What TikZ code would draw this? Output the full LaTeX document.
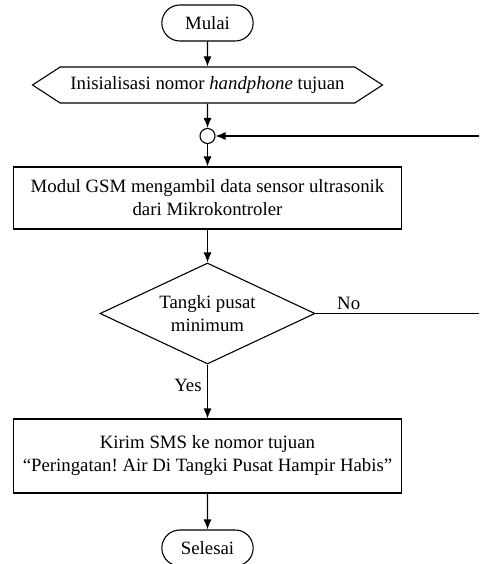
\documentclass[tikz,border=0pt]{standalone}
\usepackage{fontspec}
\setmainfont{Liberation Serif}
\usetikzlibrary{arrows.meta, shapes.misc, shapes.geometric, shapes.symbols}
\frenchspacing

\begin{document}
\begin{tikzpicture}[x=1pt, y=-1pt, line width=1.1pt, >={Latex[length=10pt, width=8pt]},
    font=\fontsize{18.8}{23}\selectfont,
    terminal/.style={draw, rounded rectangle, minimum width=98pt, minimum height=36pt},
    process/.style={draw, rectangle, align=center, minimum width=388pt},
    flow/.style={draw, ->}]
    \clip (0,0) rectangle (479,564);

    \node[terminal] (mulai) at (207.5,23) {Mulai};
    \node[draw, signal, signal to=east and west, signal pointer angle=66, minimum width=350pt, minimum height=36pt] (init) at (207.5,85) {Inisialisasi nomor \textit{handphone} tujuan};
    \node[draw, circle, minimum size=15pt, inner sep=0pt] (join) at (207.5,136) {};
    \node[process, minimum height=62pt] (ambil) at (207.5,198) {Modul GSM mengambil data sensor ultrasonik\\dari Mikrokontroler};
    \node[draw, diamond, aspect=2.13, align=center, minimum width=215pt, minimum height=101pt] (tangki) at (207.5,313.5) {Tangki pusat\\minimum};
    \node[process, minimum height=74pt] (sms) at (207.5,456) {Kirim SMS ke nomor tujuan\\“Peringatan! Air Di Tangki Pusat Hampir Habis”};
    \node[terminal] (selesai) at (207.5,548) {Selesai};

    \coordinate (balik) at (490,313.5);

    \path[flow] (mulai) -- (init);
    \path[flow] (init) -- (join);
    \path[flow] (join) -- (ambil);
    \path[flow] (ambil) -- (tangki);
    \path[flow] (tangki) -- node[pos=0.38, left, xshift=-2pt] {Yes} (sms);
    \path[flow] (sms) -- (selesai);
    \path[flow] (tangki.east) -- node[pos=0.19, above] {No} (balik) |- (join.east);

\end{tikzpicture}
\end{document}
